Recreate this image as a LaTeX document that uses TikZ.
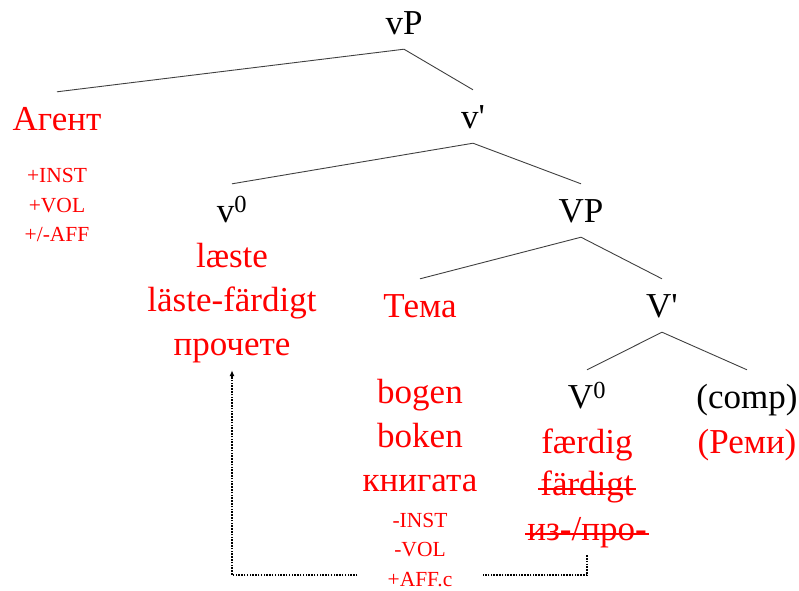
\documentclass[tikz,border=0pt]{standalone}
\usepackage{fontspec}
\setmainfont{Liberation Serif}
\usetikzlibrary{arrows.meta}

\tikzset{
    cat/.style={font=\fontsize{35}{40}\selectfont, text height=23pt, text depth=0pt,
        inner xsep=2pt, inner ysep=15pt, anchor=base},
    lex/.style={cat, text=red},
    feat/.style={font=\fontsize{21.5}{25}\selectfont, text=red, inner sep=0pt, anchor=base},
    branch/.style={line width=0.9pt, black!75},
    strike/.style={red, line width=1.3pt},
    move/.style={dash pattern=on 1.5pt off 1.3pt, line width=1.7pt}
}

\begin{document}
\begin{tikzpicture}[x=1pt, y=-1pt]
    \useasboundingbox (0,0) rectangle (799,590);

    \node[cat] (vP) at (404, 34) {vP};
    \node[lex] (Agent) at (57, 130) {Агент};
    \node[feat] (inst1) at (57, 182) {+INST};
    \node[feat] (vol1) at (57, 212) {+VOL};
    \node[feat] (aff1) at (57, 241) {+/-AFF};
    \node[cat] (vbar) at (473, 128) {v\textquotesingle};

    \node[cat] (v0) at (232, 222) {v\textsuperscript{0}};
    \node[lex] (laeste) at (232, 267) {læste};
    \node[lex] (lastefardigt) at (232, 311) {läste-färdigt};
    \node[lex] (prochete) at (232, 355) {прочете};
    \node[cat] (VP) at (581, 222) {VP};

    \node[lex] (Tema) at (420, 317) {Тема};
    \node[lex] (bogen) at (420, 403) {bogen};
    \node[lex] (boken) at (420, 447) {boken};
    \node[lex] (knigata) at (420, 491) {книгата};
    \node[feat] (inst2) at (420, 527) {-INST};
    \node[feat] (vol2) at (420, 556) {-VOL};
    \node[feat, text height=22pt, inner xsep=30pt] (affc) at (420, 586) {+AFF.c};
    \node[cat] (Vbar) at (662, 317) {V\textquotesingle};

    \node[cat] (V0) at (587, 408) {V\textsuperscript{0}};
    \node[lex] (faerdig) at (587, 453) {færdig};
    \node[lex] (fardigt) at (587, 495) {färdigt};
    \node[lex] (izpro) at (587, 540) {из-/про-};
    \node[cat] (comp) at (747, 408) {(comp)};
    \node[lex] (Remi) at (747, 453) {(Реми)};

    \draw[branch] (vP.south) -- (Agent.north);
    \draw[branch] (vP.south) -- (vbar.north);
    \draw[branch] (vbar.south) -- (v0.north);
    \draw[branch] (vbar.south) -- (VP.north);
    \draw[branch] (VP.south) -- (Tema.north);
    \draw[branch] (VP.south) -- (Vbar.north);
    \draw[branch] (Vbar.south) -- (V0.north);
    \draw[branch] (Vbar.south) -- (comp.north);

    % struck-out forms
    \draw[strike] ([yshift=6pt]fardigt.base west) -- ([yshift=6pt]fardigt.base east);
    \draw[strike] ([yshift=6pt]izpro.base west) -- ([yshift=6pt]izpro.base east);

    \draw[move] (izpro.south) |- (affc.east);
    \draw[move, -{Latex[length=6pt, width=5pt]}] (affc.west) -| (prochete.south);
\end{tikzpicture}
\end{document}
